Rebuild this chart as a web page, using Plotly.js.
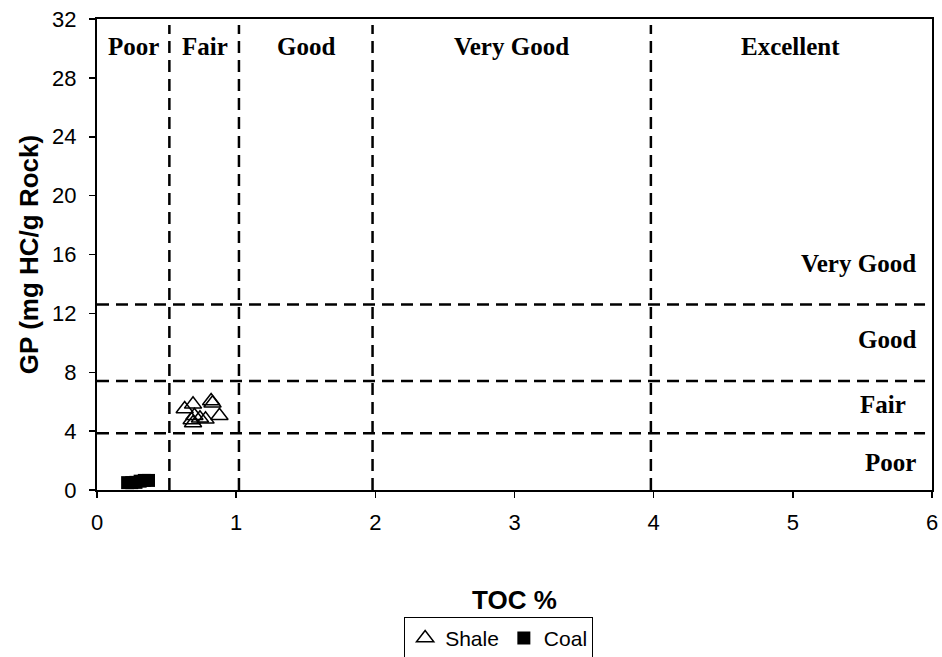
<!DOCTYPE html>
<html>
<head>
<meta charset="utf-8">
<script src="https://cdn.plot.ly/plotly-3.0.1.min.js"></script>
<style>html,body{margin:0;padding:0;background:#fff;}#chart{width:942px;height:657px;}</style>
</head>
<body>
<div id="chart"></div>
<script>
// Data
const shaleTOC = [0.63, 0.69, 0.82, 0.83, 0.88, 0.70, 0.74, 0.78, 0.68, 0.69];
const shaleGP  = [5.50, 5.82, 6.05, 5.89, 5.05, 5.05, 4.87, 4.80, 4.76, 4.55];
const coalTOC  = [0.22, 0.25, 0.28, 0.31, 0.34, 0.37];
const coalGP   = [0.50, 0.50, 0.52, 0.60, 0.65, 0.65];

// Classification boundaries
const tocBounds = [0.52, 1.02, 1.98, 3.98];
const gpBounds  = [3.85, 7.4, 12.6];

// Class labels
const tocClassNames = ["Poor", "Fair", "Good", "Very Good", "Excellent"];
const tocClassX     = [0.26, 0.776, 1.5, 2.98, 4.98];
const gpClassNames  = ["Very Good", "Good", "Fair", "Poor"];
const gpClassY      = [15.4, 10.2, 5.8, 1.85];
const gpClassX      = [5.9, 5.9, 5.83, 5.9];

const xTicks = [0, 1, 2, 3, 4, 5, 6];
const yTicks = [0, 4, 8, 12, 16, 20, 24, 28, 32];

const serif = "Liberation Serif, Times New Roman, serif";
const sans = "Liberation Sans, Arial, sans-serif";
const dashLine = {color: "black", width: 2.5, dash: "12px,7px"};

const shapes = [];
tocBounds.forEach(v => shapes.push({type: "line", xref: "x", yref: "y", x0: v, x1: v, y0: 0, y1: 31.6, line: dashLine}));
gpBounds.forEach(v => shapes.push({type: "line", xref: "x", yref: "y", x0: 0, x1: 5.95, y0: v, y1: v, line: dashLine}));

const annotations = [];
tocClassNames.forEach((t, i) => annotations.push({
  text: t, x: tocClassX[i], y: 30.1, xref: "x", yref: "y", showarrow: false,
  font: {family: serif, size: 25, color: "black", weight: "bold"}
}));
gpClassNames.forEach((t, i) => annotations.push({
  text: t, x: gpClassX[i], y: gpClassY[i], xref: "x", yref: "y", showarrow: false, xanchor: "right",
  font: {family: serif, size: 25, color: "black", weight: "bold"}
}));

const traces = [
  {x: shaleTOC, y: shaleGP, name: "Shale", type: "scatter", mode: "markers",
   marker: {symbol: "triangle-up-open", size: 15, color: "black", line: {width: 1.5, color: "black"}}},
  {x: coalTOC, y: coalGP, name: "Coal", type: "scatter", mode: "markers",
   marker: {symbol: "square", size: 13, color: "black"}}
];

const layout = {
  width: 942, height: 657,
  margin: {l: 97, r: 10, t: 19, b: 167},
  paper_bgcolor: "white", plot_bgcolor: "white",
  font: {family: sans, size: 20, color: "black"},
  xaxis: {
    range: [0, 6], tickvals: xTicks, ticktext: xTicks.map(String),
    showgrid: false, zeroline: false, showline: true, linecolor: "black", linewidth: 2, mirror: true,
    ticks: "outside", ticklen: 6, tickwidth: 1.5, tickcolor: "black", ticklabelstandoff: 6,
    tickfont: {family: sans, size: 22},
    title: {text: "TOC %", font: {family: sans, size: 26, weight: "bold"}, standoff: 56}
  },
  yaxis: {
    range: [0, 32], tickvals: yTicks, ticktext: yTicks.map(String),
    showgrid: false, zeroline: false, showline: true, linecolor: "black", linewidth: 2, mirror: true,
    ticks: "outside", ticklen: 6, tickwidth: 1.5, tickcolor: "black", ticklabelstandoff: 8,
    tickfont: {family: sans, size: 22},
    title: {text: "GP (mg HC/g Rock)", font: {family: sans, size: 26, weight: "bold"}, standoff: 6}
  },
  showlegend: true,
  legend: {
    orientation: "h", x: 0.481, xanchor: "center", xref: "paper",
    yref: "container", y: 0.061, yanchor: "top",
    bordercolor: "black", borderwidth: 1, bgcolor: "white",
    font: {family: sans, size: 21, color: "black"}, itemwidth: 30
  },
  shapes: shapes,
  annotations: annotations
};

Plotly.newPlot("chart", traces, layout, {displayModeBar: false, staticPlot: true});
</script>
</body>
</html>
